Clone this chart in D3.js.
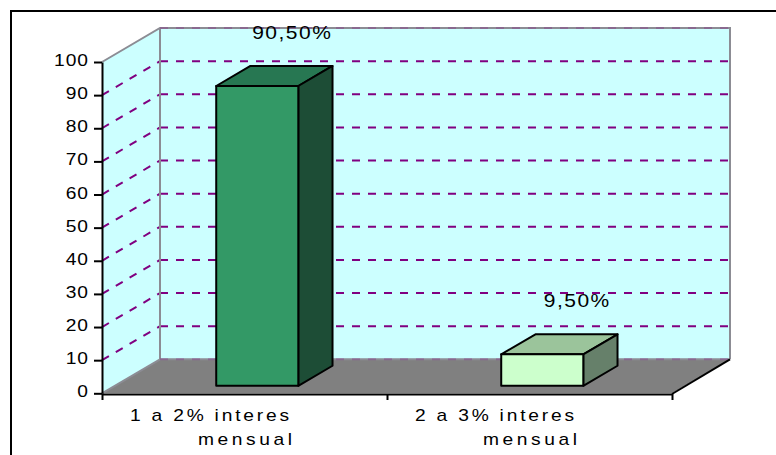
<!DOCTYPE html>
<html>
<head>
<meta charset="utf-8">
<script src="https://cdn.jsdelivr.net/npm/d3@7"></script>
<style>
  html, body { margin: 0; padding: 0; background: #fff; }
  svg { display: block; font-family: "Liberation Sans", Arial, sans-serif; }
</style>
</head>
<body>
<svg id="chart" width="776" height="455"></svg>
<script>
// Chart data
const categories = ["1 a 2% interes mensual", "2 a 3% interes mensual"];
const categoryLines = [["1 a 2% interes", "mensual"], ["2 a 3% interes", "mensual"]];
const values = [90.5, 9.5];
const valueLabels = ["90,50%", "9,50%"];
const yTicks = [0, 10, 20, 30, 40, 50, 60, 70, 80, 90, 100];

// Bar shading: front, top, side
const barColors = [
  { front: "#339966", top: "#277752", side: "#1d4d36" },
  { front: "#ccffcc", top: "#9bc49b", side: "#66806a" }
];

// Text is drawn slightly widened horizontally
const SX = 1.2;

const svg = d3.select("#chart");

// Frame
svg.append("rect")
  .attr("x", 11).attr("y", 11).attr("width", 790).attr("height", 470)
  .attr("fill", "#fff").attr("stroke", "#000").attr("stroke-width", 2);

// Scales and 3D projection
const y = d3.scaleLinear().domain([0, 100]).range([393.3, 62]);
const x = d3.scaleBand().domain(categories).range([102, 672]).paddingInner(0).paddingOuter(0);
const depth = { dx: 58, dy: -34 };
const P = (px, py, z) => [px + depth.dx * z, py + depth.dy * z];
const x0 = x.range()[0], x1 = x.range()[1];
const y0 = y(0), yTop = y(100);

const poly = pts => pts.map(p => p.join(",")).join(" ");

// Side wall
svg.append("polygon")
  .attr("points", poly([[x0, y0], [x0, yTop], P(x0, yTop, 1), P(x0, y0, 1)]))
  .attr("fill", "#ccffff");

// Back wall
svg.append("polygon")
  .attr("points", poly([P(x0, yTop, 1), P(x1, yTop, 1), P(x1, y0, 1), P(x0, y0, 1)]))
  .attr("fill", "#ccffff");

// Floor
svg.append("polygon")
  .attr("points", poly([[x0, y0], [x1, y0], P(x1, y0, 1), P(x0, y0, 1)]))
  .attr("fill", "#808080");

// Gridlines on side and back walls
const gridVals = yTicks.filter(v => v > 0 && v < 100);
const grid = svg.append("g")
  .attr("stroke", "#800080").attr("stroke-width", 2)
  .attr("stroke-dasharray", "8,8").attr("fill", "none");
grid.selectAll("path.side").data(gridVals).join("path")
  .attr("class", "side")
  .attr("d", v => `M${x0},${y(v)}L${P(x0, y(v), 1).join(",")}`);
grid.selectAll("path.back").data(gridVals).join("path")
  .attr("class", "back")
  .attr("d", v => `M${P(x0, y(v), 1).join(",")}L${P(x1, y(v), 1).join(",")}`);

// Wall edges
const edges = svg.append("g").attr("fill", "none").attr("stroke", "#8c8c94").attr("stroke-width", 2);
edges.append("path").attr("d",
  `M${x0},${yTop}L${P(x0, yTop, 1).join(",")}L${P(x1, yTop, 1).join(",")}L${P(x1, y0, 1).join(",")}`);
edges.append("path").attr("d", `M${P(x0, yTop, 1).join(",")}L${P(x0, y0, 1).join(",")}`);
edges.append("path").attr("d", `M${P(x0, y0, 1).join(",")}L${P(x1, y0, 1).join(",")}`);
edges.append("path").attr("d", `M${x0},${y0}L${P(x0, y0, 1).join(",")}`);
// Dashed 0 and 100 lines over the edges
svg.append("g").attr("fill", "none").attr("stroke", "#800080").attr("stroke-opacity", 0.25)
  .attr("stroke-width", 2).attr("stroke-dasharray", "8,8")
  .selectAll("path").data([0, 100]).join("path")
  .attr("d", v => `M${P(x0, y(v), 1).join(",")}L${P(x1, y(v), 1).join(",")}`);
// Floor front-right edge
svg.append("path")
  .attr("d", `M${x1},${y0 + 0.7}L${P(x1, y0, 1).join(",")}`)
  .attr("stroke", "#000").attr("stroke-width", 2).attr("fill", "none");

// Bars
const barFrac = 0.288, zFront = 0.22, zBack = 0.81;
const barW = x.bandwidth() * barFrac;
const bars = svg.append("g").attr("stroke", "#000").attr("stroke-width", 2).attr("stroke-linejoin", "round");
values.forEach((v, i) => {
  const bx = x(categories[i]) + (x.bandwidth() - barW) / 2;
  const fTL = P(bx, y(v), zFront), fTR = P(bx + barW, y(v), zFront);
  const fBL = P(bx, y(0), zFront), fBR = P(bx + barW, y(0), zFront);
  const bTL = P(bx, y(v), zBack), bTR = P(bx + barW, y(v), zBack);
  const bBR = P(bx + barW, y(0), zBack);
  const c = barColors[i];
  bars.append("polygon").attr("points", poly([fTL, fTR, bTR, bTL])).attr("fill", c.top);
  bars.append("polygon").attr("points", poly([fTR, fBR, bBR, bTR])).attr("fill", c.side);
  bars.append("polygon").attr("points", poly([fTL, fTR, fBR, fBL])).attr("fill", c.front);
});

// Adds a fixed gap (in screen pixels) between the characters of a widened label
function spaceText(sel, gap) {
  sel.each(function () {
    const n = this.textContent.length;
    const w = this.getComputedTextLength();
    d3.select(this).attr("textLength", w + gap * (n - 1) / SX).attr("lengthAdjust", "spacing");
  });
}

// Value labels
svg.append("g").selectAll("text").data(values).join("text")
  .attr("transform", (v, i) => {
    const cx = P(x(categories[i]) + x.bandwidth() / 2, y(v), zBack)[0];
    const cy = P(0, y(v), zBack)[1] - 27;
    return `translate(${cx},${cy}) scale(${SX},1)`;
  })
  .attr("text-anchor", "middle")
  .attr("font-size", 17.5).attr("fill", "#000")
  .text((v, i) => valueLabels[i])
  .call(spaceText, 1.5);

// Y axis
const yAxis = svg.append("g")
  .attr("transform", `translate(${x0},0)`)
  .call(d3.axisLeft(y).tickValues(yTicks).tickSize(8).tickSizeOuter(0).tickPadding(6));
yAxis.select(".domain").attr("stroke", "#000").attr("stroke-width", 2);
yAxis.selectAll(".tick line").attr("stroke", "#000").attr("stroke-width", 2);
yAxis.selectAll(".tick text")
  .attr("x", 0)
  .attr("transform", `translate(-14,0) scale(${SX},1)`)
  .attr("font-family", "Liberation Sans, Arial, sans-serif")
  .attr("font-size", 16).attr("fill", "#000").attr("dy", "0.22em")
  .call(spaceText, 1);

// X axis: ticks on category boundaries
const xb = d3.scaleLinear().domain([0, categories.length]).range([x0, x1]);
const xAxis = svg.append("g")
  .attr("transform", `translate(0,${y0 + 0.7})`)
  .call(d3.axisBottom(xb).tickValues(d3.range(categories.length + 1)).tickSize(6).tickSizeOuter(0).tickFormat(""));
xAxis.select(".domain").attr("stroke", "#000").attr("stroke-width", 2);
xAxis.selectAll(".tick line").attr("stroke", "#000").attr("stroke-width", 2);

// Category labels (two lines each)
const catG = svg.append("g").attr("font-size", 16).attr("fill", "#000").attr("text-anchor", "middle");
categoryLines.forEach((lines, i) => {
  const cx = x(categories[i]) + x.bandwidth() / 2;
  catG.append("text").attr("transform", `translate(${cx - 35},421) scale(${SX},1)`)
    .attr("textLength", 159 / SX).attr("lengthAdjust", "spacing").text(lines[0]);
  catG.append("text").attr("transform", `translate(${cx + 0.5},445) scale(${SX},1)`)
    .attr("textLength", 94 / SX).attr("lengthAdjust", "spacing").text(lines[1]);
});
</script>
</body>
</html>
